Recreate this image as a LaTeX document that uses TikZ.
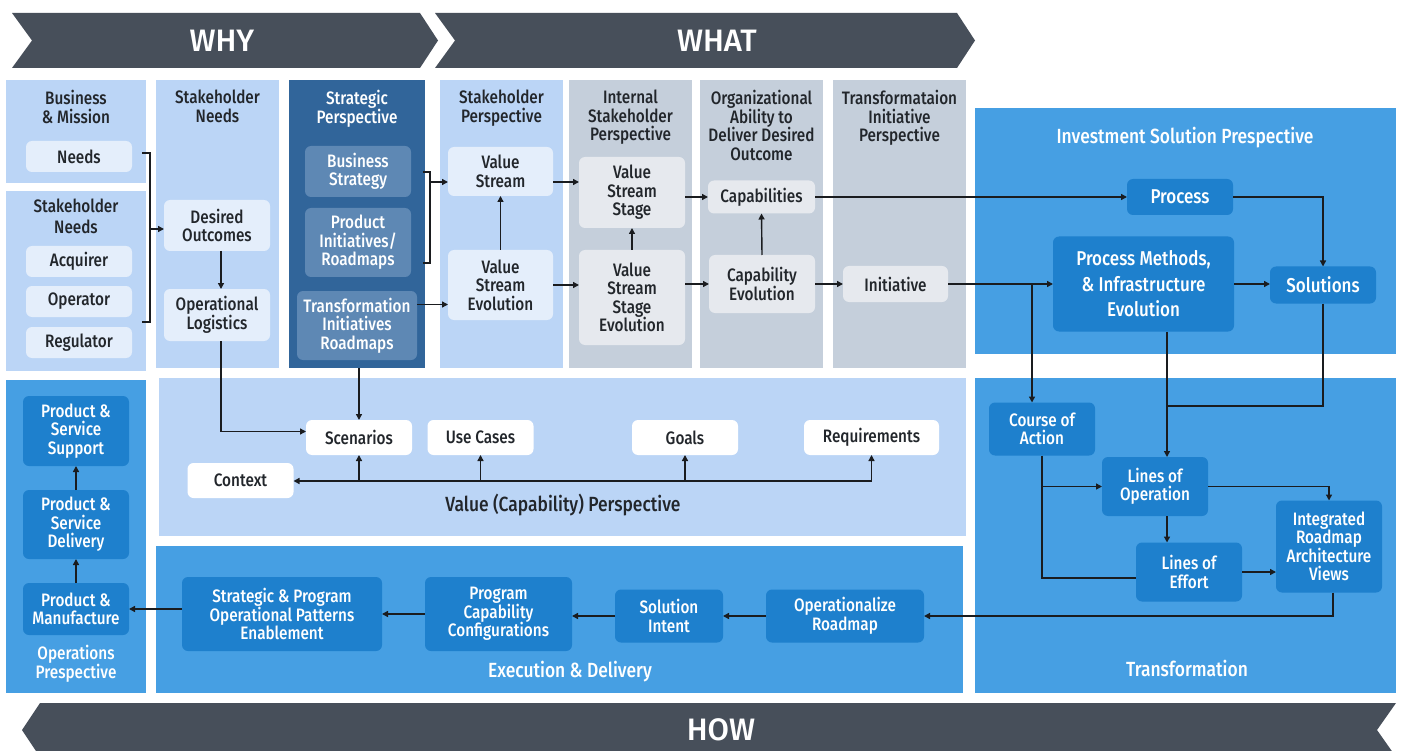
\documentclass[tikz,border=0pt]{standalone}
\usepackage{fontspec}
\setmainfont{Fira Sans Medium}[FakeStretch=0.85]
\newfontfamily\headfont{Fira Sans Medium}
\usetikzlibrary{arrows.meta,positioning}

\definecolor{chev}{HTML}{474F5A}
\definecolor{lightp}{HTML}{BBD5F6}
\definecolor{lightb}{HTML}{E4EEFB}
\definecolor{grayp}{HTML}{C5CFDB}
\definecolor{grayb}{HTML}{E6E9EE}
\definecolor{stratp}{HTML}{31659A}
\definecolor{stratb}{HTML}{5E88B4}
\definecolor{medp}{HTML}{469FE3}
\definecolor{medb}{HTML}{1E80CD}
\definecolor{txt}{HTML}{22262B}
\definecolor{lnk}{HTML}{1A1C1F}

\newcommand\boxfont{\fontsize{18}{18.5}\selectfont}
\newcommand\bigfont{\fontsize{20}{25.5}\selectfont}
\newcommand\capfont{\fontsize{20.5}{21}\selectfont}

\begin{document}
\begin{tikzpicture}[x=1pt,y=-1pt,
	panel/.style={anchor=north west,inner sep=0,outer sep=0},
	ttl/.style={anchor=north,inner sep=0,align=center,text=txt,font=\boxfont},
	box/.style={rounded corners=6pt,inner sep=0,outer sep=0,align=center,font=\boxfont},
	lbox/.style={box,fill=lightb,text=txt},
	gbox/.style={box,fill=grayb,text=txt},
	sbox/.style={box,fill=stratb,text=white},
	wbox/.style={box,fill=white,text=txt},
	bbox/.style={box,fill=medb,text=white},
	ln/.style={line width=1.4pt,draw=lnk},
	arr/.style={ln,-{Triangle[length=6pt,width=6pt]}}]

\clip (0,0) rectangle (1402,751);
\fill[white] (0,0) rectangle (1402,751);

% why / what / how banners
\fill[chev] (12,13) -- (420,13) -- (438,40.5) -- (420,68) -- (12,68) -- (32,40.5) -- cycle;
\fill[chev] (435,13) -- (957,13) -- (975,40.5) -- (957,68) -- (435,68) -- (455,40.5) -- cycle;
\fill[chev] (40,703) -- (1396,703) -- (1377,730) -- (1396,757) -- (40,757) -- (22,730) -- cycle;
\node[text=white,font=\headfont\fontsize{31}{31}\selectfont] (why) at (222,40.5) {WHY};
\node[text=white,font=\headfont\fontsize{31}{31}\selectfont] (what) at (717,40.5) {WHAT};
\node[text=white,font=\headfont\fontsize{31}{31}\selectfont] (how) at (721,730) {HOW};

% columns
\node[panel,fill=lightp,minimum width=140,minimum height=103] (bm) at (6,80) {};
\node[panel,fill=lightp,minimum width=140,minimum height=180] (sn) at (6,191) {};
\node[panel,fill=lightp,minimum width=123,minimum height=288] (shn) at (156,80) {};
\node[panel,fill=stratp,minimum width=136,minimum height=288] (strat) at (289,80) {};
\node[panel,fill=lightp,minimum width=123,minimum height=288] (shp) at (440,80) {};
\node[panel,fill=grayp,minimum width=123,minimum height=288] (ishp) at (569,80) {};
\node[panel,fill=grayp,minimum width=123,minimum height=288] (org) at (700,80) {};
\node[panel,fill=grayp,minimum width=133,minimum height=288] (tip) at (833,80) {};
\node[panel,fill=medp,minimum width=421,minimum height=246] (isp) at (975,108) {};
\node[panel,fill=medp,minimum width=421,minimum height=315] (trn) at (975,378) {};
\node[panel,fill=medp,minimum width=140,minimum height=313] (ops) at (6,380) {};
\node[panel,fill=lightp,minimum width=807,minimum height=158] (val) at (159,378) {};
\node[panel,fill=medp,minimum width=807,minimum height=147] (exe) at (156,546) {};

\node[ttl] (bm-t) at ([yshift=-10]bm.north) {Business\\\& Mission};
\node[ttl,font=\fontsize{18}{21}\selectfont] (sn-t) at ([yshift=-8]sn.north) {Stakeholder\\Needs};
\node[ttl] (shn-t) at ([yshift=-10]shn.north) {Stakeholder\\Needs};
\node[ttl,text=white] (strat-t) at ([yshift=-10]strat.north) {Strategic\\Perspective};
\node[ttl] (shp-t) at ([yshift=-10]shp.north) {Stakeholder\\Perspective};
\node[ttl] (ishp-t) at ([yshift=-10]ishp.north) {Internal\\Stakeholder\\Perspective};
\node[ttl] (org-t) at ([yshift=-10]org.north) {Organizational\\Ability to\\Deliver Desired\\Outcome};
\node[ttl] (tip-t) at ([yshift=-10]tip.north) {Transformataion\\Initiative\\Perspective};
\node[ttl,anchor=center,text=white,font=\capfont] (isp-t) at (1185,138) {Investment Solution Prespective};
\node[ttl,anchor=center,text=white,font=\capfont] (trn-t) at (1187,668) {Transformation};
\node[ttl,anchor=center,text=white] (ops-t) at (76,664) {Operations\\Prespective};
\node[ttl,anchor=center,font=\capfont] (val-t) at (563,505) {Value (Capability) Perspective};
\node[ttl,anchor=center,text=white,font=\capfont] (exe-t) at (570,672) {Execution \& Delivery};

% why
\node[lbox,minimum width=106,minimum height=31] (needs) at (79,156.5) {Needs};
\node[lbox,minimum width=106,minimum height=31] (acq) at (79,261.5) {Acquirer};
\node[lbox,minimum width=106,minimum height=31] (oper) at (79,301.5) {Operator};
\node[lbox,minimum width=106,minimum height=31] (regu) at (79,342.5) {Regulator};
\node[lbox,minimum width=106,minimum height=51] (desout) at (217,225.5) {Desired\\Outcomes};
\node[lbox,minimum width=106,minimum height=52] (oplog) at (217,315) {Operational\\Logistics};
\node[sbox,minimum width=106,minimum height=51] (bstrat) at (358,171.5) {Business\\Strategy};
\node[sbox,minimum width=106,minimum height=69] (prodinit) at (358,242.5) {Product\\Initiatives/\\Roadmaps};
\node[sbox,minimum width=120,minimum height=69] (transinit) at (357,325.5) {Transformation\\Initiatives\\Roadmaps};

% what
\node[lbox,minimum width=105,minimum height=49] (vs) at (500.5,171.5) {Value\\Stream};
\node[lbox,minimum width=105,minimum height=70] (vse) at (500.5,285) {Value\\Stream\\Evolution};
\node[gbox,minimum width=106,minimum height=71] (vss) at (632,192.5) {Value\\Stream\\Stage};
\node[gbox,minimum width=106,minimum height=95] (vsse) at (632,297.5) {Value\\Stream\\Stage\\Evolution};
\node[gbox,minimum width=107,minimum height=33] (caps) at (761.5,197) {Capabilities};
\node[gbox,minimum width=106,minimum height=58] (capev) at (762,284) {Capability\\Evolution};
\node[gbox,minimum width=105,minimum height=36] (init) at (895.5,284) {Initiative};

% investment solution
\node[bbox,minimum width=106,minimum height=36,font=\bigfont] (process) at (1180,197) {Process};
\node[bbox,minimum width=181,minimum height=95,font=\bigfont] (pmie) at (1143.5,284) {Process Methods,\\\& Infrastructure\\Evolution};
\node[bbox,minimum width=106,minimum height=37,font=\bigfont] (solutions) at (1323,285) {Solutions};

% transformation
\node[bbox,minimum width=106,minimum height=53] (coa) at (1042,429) {Course of\\Action};
\node[bbox,minimum width=106,minimum height=59] (loo) at (1155,486.5) {Lines of\\Operation};
\node[bbox,minimum width=106,minimum height=59] (loe) at (1189,572) {Lines of\\Effort};
\node[bbox,minimum width=106,minimum height=92] (irav) at (1329,546.5) {Integrated\\Roadmap\\Architecture\\Views};

% value (capability)
\node[wbox,minimum width=106,minimum height=35] (scen) at (359,437.5) {Scenarios};
\node[wbox,minimum width=106,minimum height=35] (usec) at (480.5,437.5) {Use Cases};
\node[wbox,minimum width=106,minimum height=35] (goals) at (685,437.5) {Goals};
\node[wbox,minimum width=135,minimum height=35] (req) at (871.5,437.5) {Requirements};
\node[wbox,minimum width=106,minimum height=35] (ctx) at (240.5,480.5) {Context};

% execution and operations
\node[bbox,minimum width=106,minimum height=70] (psupp) at (76,431) {Product \&\\Service\\Support};
\node[bbox,minimum width=106,minimum height=69] (pdeliv) at (76,524.5) {Product \&\\Service\\Delivery};
\node[bbox,minimum width=106,minimum height=52] (pmanu) at (76,609) {Product \&\\Manufacture};
\node[bbox,minimum width=200,minimum height=74] (spope) at (282,614) {Strategic \& Program\\Operational Patterns\\Enablement};
\node[bbox,minimum width=147,minimum height=74] (pcc) at (498.5,614) {Program\\Capability\\Configurations};
\node[bbox,minimum width=108,minimum height=53] (sint) at (669,616) {Solution\\Intent};
\node[bbox,minimum width=158,minimum height=53] (oproad) at (845,616) {Operationalize\\Roadmap};

% brackets
\coordinate (k1t) at (142,153);
\coordinate (k1b) at (142,322);
\coordinate (k1) at (150,229);
\coordinate (k2t) at (423,172);
\coordinate (k2b) at (423,263);
\coordinate (k2) at (430,182);
\draw[ln] (k1t) -| (k1) |- (k1b);
\draw[ln] (k2t) -| (k2) |- (k2b);
\draw[arr] (k1) -- (k1 -| desout.west);
\draw[arr] (k2) -- (k2 -| vs.west);

\draw[arr] ([xshift=4]desout.south) -- ([xshift=4]oplog.north);
\coordinate (t1) at ([yshift=21]transinit.east);
\draw[arr] (t1) -- (t1 -| vse.west);
\draw[arr] (vse.north) -- (vs.south);
\draw[arr] (vs.east |- k2) -- (vss.west |- k2);
\draw[arr] (vse.east) -- (vse.east -| vsse.west);
\draw[arr] (vsse.north) -- (vss.south);
\draw[arr] (vss.east |- caps) -- (caps.west);
\draw[arr] (vsse.east |- capev) -- (capev.west);
\draw[arr] (capev.north) -- (caps.south);
\draw[arr] (capev.east) -- (init.west);
\draw[arr] (caps.east) -- (process.west);
\draw[arr] (init.east) -- (pmie.west);

% investment into transformation
\coordinate (j1) at ([xshift=-10]coa.north |- init.east);
\coordinate (v1) at ([xshift=23.5]pmie.south);
\coordinate (j2) at (1167,406);
\draw[arr] (j1) -- (j1 |- coa.north);
\draw[arr] (process.east) -| (solutions.north);
\draw[arr] (pmie.east) -- (pmie.east -| solutions.west);
\draw[arr] (v1) -- (v1 |- loo.north);
\draw[ln] (solutions.south) |- (j2);
\draw[arr] (v1 |- loo.south) -- (v1 |- loe.north);
\draw[ln] (coa.south) |- ([yshift=-6]loe.west);
\draw[arr] (coa.south |- loo.west) -- (loo.west);
\draw[arr] (loo.east) -| (irav.north);
\draw[arr] (loe.east) -- (loe.east -| irav.west);
\draw[arr] ([xshift=4]irav.south) |- (oproad.east);

% execution chain
\draw[arr] (oproad.west) -- (sint.east);
\draw[arr] (sint.west) -- (sint.west -| pcc.east);
\draw[arr] (pcc.west) -- (spope.east);
\draw[arr] (spope.west |- pmanu) -- (pmanu.east);
\draw[arr] (pmanu.north) -- (pdeliv.south);
\draw[arr] (pdeliv.north) -- (psupp.south);

% value (capability)
\draw[arr] ([xshift=4]oplog.south) |- ([yshift=6]scen.west);
\draw[arr] (strat.south -| scen) -- (scen.north);
\coordinate (bus) at ([yshift=-26]req.south);
\draw[arr] (bus) -- (bus -| ctx.east);
\foreach \n in {scen,usec,goals,req}
	\draw[arr] (bus -| \n) -- (\n.south);

\end{tikzpicture}
\end{document}
